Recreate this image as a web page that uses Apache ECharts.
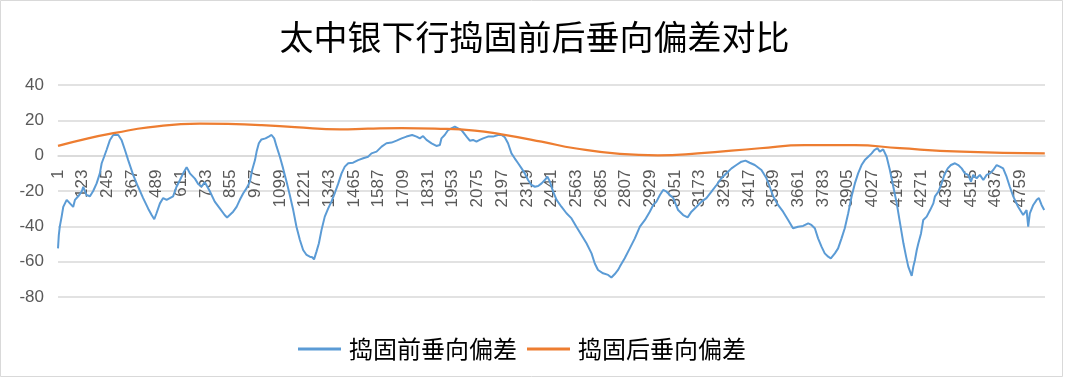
<!DOCTYPE html>
<html>
<head>
<meta charset="utf-8">
<script src="https://cdn.jsdelivr.net/npm/echarts@6/dist/echarts.min.js"></script>
<style>
html,body{margin:0;padding:0;background:#fff;}
#chart{width:1069px;height:380px;}
</style>
</head>
<body>
<div id="chart"></div>
<script>
// Chart title and series names
const titleText = '太中银下行捣固前后垂向偏差对比';
const seriesNames = ['捣固前垂向偏差', '捣固后垂向偏差'];

// Y axis ticks
const yMin = -80, yMax = 40, yStep = 20;
// X axis: point index (0-based), labels show index+1 every 122 points
const xStep = 122, xMax = 4880;

// 捣固前垂向偏差 (point index, value)
const beforeIdx = [0,4,9,18,26,43,59,75,84,100,117,125,141,158,174,191,207,216,228,240,257,273,281,298,314,331,347,372,396,421,446,463,476,487,504,520,537,553,569,586,603,619,636,652,677,693,710,726,750,775,800,824,836,849,866,883,899,916,932,949,960,974,982,993,1006,1026,1042,1056,1069,1081,1097,1113,1130,1146,1163,1179,1196,1212,1229,1245,1257,1266,1278,1290,1303,1319,1336,1352,1369,1385,1402,1418,1435,1459,1484,1509,1533,1550,1575,1600,1624,1649,1674,1699,1723,1751,1773,1789,1805,1822,1847,1871,1888,1896,1912,1929,1945,1962,1978,1995,2020,2036,2052,2069,2085,2102,2126,2151,2176,2193,2209,2225,2242,2258,2275,2292,2308,2324,2341,2358,2374,2391,2407,2420,2432,2448,2465,2489,2514,2539,2563,2588,2613,2638,2654,2670,2695,2720,2736,2753,2769,2778,2802,2827,2852,2877,2902,2926,2943,2959,2976,2992,3009,3025,3042,3066,3091,3113,3132,3157,3182,3206,3231,3256,3280,3305,3330,3354,3379,3399,3420,3445,3478,3503,3519,3536,3560,3585,3610,3634,3659,3684,3709,3725,3742,3758,3775,3791,3808,3821,3841,3857,3874,3890,3907,3924,3940,3956,3973,3989,4006,4023,4036,4052,4063,4080,4097,4113,4130,4147,4163,4180,4193,4204,4221,4229,4237,4246,4254,4267,4278,4295,4312,4328,4336,4353,4369,4382,4399,4415,4435,4451,4468,4484,4500,4514,4525,4542,4558,4575,4591,4608,4624,4641,4657,4673,4690,4706,4723,4747,4772,4789,4797,4805,4822,4839,4850,4863,4876];
const beforeVal = [-52.5,-45,-40,-34.5,-29,-25,-27,-29,-25,-23,-20.4,-17.6,-22.3,-23,-20,-15.7,-10,-4.3,-0.6,3.2,8.9,11.7,12.6,11.7,8.9,3.2,-2.5,-11,-17.6,-24,-30,-33.6,-36,-32.6,-27,-24,-25,-24,-23,-17.6,-13.8,-10,-6.5,-10,-13,-16,-17.5,-15,-20,-26,-29.8,-33.6,-35,-33.6,-31.7,-29,-25,-21.3,-18.5,-14.7,-8.1,-2.5,2.3,7,9.2,9.8,10.8,11.7,9.8,5.1,-0.6,-7.2,-14.7,-22.3,-30.8,-40.2,-47.7,-53.4,-56.2,-57.2,-57.5,-58.7,-54.3,-49.6,-42,-34.5,-29.8,-26,-21,-16,-10,-6.2,-4.3,-4,-2.5,-1.5,-0.6,1.3,2.3,5.1,7,7.4,8.5,9.8,10.8,11.7,10.8,9.8,11.1,8.9,7,5.5,6,9.8,11.7,14.5,15.5,16.4,15.5,14.5,10.8,8.5,8.9,7.9,8.9,9.8,10.8,10.8,11.7,11.7,10.4,7,1.3,-1.5,-4.3,-7.2,-10,-13.8,-16.6,-17.6,-17.2,-15.7,-13.8,-11.9,-14.7,-20.4,-25,-28.9,-32.6,-35.5,-40.2,-44.9,-49.6,-55.3,-61,-64.7,-66.6,-67.5,-69,-67,-64.7,-62.8,-58.1,-52.5,-46.8,-40.2,-36.4,-31.7,-27.9,-26,-22.3,-19.4,-20.4,-22.3,-24,-30.8,-33.6,-34.9,-31.7,-28.9,-26,-24,-20.4,-16.6,-12.8,-10,-7.2,-5.3,-3.4,-2.8,-4,-5.3,-8.1,-12.8,-17.6,-23,-27.9,-31.7,-36.4,-41.1,-40.2,-39.8,-38.3,-39.2,-41.1,-46.8,-51.5,-55.3,-57.2,-58.1,-55.3,-52.5,-46.8,-41.1,-32.6,-23,-15.7,-10,-5.3,-2.5,-0.6,1.3,3.2,4.2,2.3,3.6,-0.6,-8.1,-17.6,-27,-38,-49.6,-57,-62.8,-68,-62.8,-59,-53.4,-49.6,-44,-36.4,-34.5,-30.8,-27,-23,-20.4,-15.7,-10.9,-7.2,-5.3,-4.3,-5.3,-7.2,-10,-10.9,-14.7,-10.9,-12.8,-10.9,-13.8,-10.9,-10,-8.1,-5.3,-6.2,-7.2,-11.9,-17.6,-23,-28.9,-33.6,-30.8,-40.2,-32.6,-27.9,-25,-24,-27.9,-30.8];

// 捣固后垂向偏差 (point index, value)
const afterIdx = [0,149,290,446,701,840,1007,1171,1394,1532,1699,1863,2061,2193,2391,2555,2778,2966,3163,3470,3692,3939,4162,4467,4879];
const afterVal = [5.5,9.8,13,16,18.2,18,17.3,16.2,14.9,15.3,15.6,15.3,14.2,12,7.9,4.2,1.0,0.2,1.3,4.2,6,6,4.2,2.3,1.3];

const beforeData = beforeIdx.map((x, i) => [x, beforeVal[i]]);
const afterData = afterIdx.map((x, i) => [x, afterVal[i]]);

const gridTop = 85, gridBottom = 83, chartH = 380;
const plotH = chartH - gridTop - gridBottom;
// move the x axis up to the zero line
const zeroOffset = -plotH * (0 - yMin) / (yMax - yMin);

const chart = echarts.init(document.getElementById('chart'), null, {renderer: 'canvas'});
const labelFont = 'Liberation Sans';
chart.setOption({
  animation: false,
  backgroundColor: '#ffffff',
  title: {
    text: titleText,
    left: 'center',
    top: 20,
    padding: 0,
    textStyle: {fontFamily: 'Noto Sans CJK SC', fontSize: 34, fontWeight: 'normal', color: '#000000'}
  },
  legend: {
    data: seriesNames,
    left: 298,
    top: 337,
    padding: 0,
    icon: 'rect',
    itemWidth: 43,
    itemHeight: 3,
    itemGap: 10,
    textStyle: {fontFamily: 'Noto Sans CJK SC', fontSize: 24, color: '#000000', padding: [0, 0, 0, 3]}
  },
  graphic: [{
    type: 'rect',
    shape: {x: 0.5, y: 0.5, width: 1062, height: 376},
    style: {fill: 'none', stroke: '#d9d9d9', lineWidth: 1},
    silent: true
  }],
  grid: {left: 58, right: 24, top: gridTop, bottom: gridBottom, containLabel: false},
  xAxis: {
    type: 'value',
    min: 0,
    max: xMax,
    interval: xStep,
    offset: zeroOffset,
    axisLine: {onZero: false, lineStyle: {color: '#d9d9d9', width: 1.5}},
    axisTick: {show: false},
    splitLine: {show: false},
    axisLabel: {
      rotate: 90,
      margin: 14,
      color: '#595959',
      fontSize: 17,
      fontFamily: labelFont,
      showMaxLabel: false,
      formatter: v => String(v + 1)
    }
  },
  yAxis: {
    type: 'value',
    min: yMin,
    max: yMax,
    interval: yStep,
    axisLine: {show: false},
    axisTick: {show: false},
    splitLine: {lineStyle: {color: '#d9d9d9', width: 1.5}},
    axisLabel: {margin: 14, color: '#595959', fontSize: 17, fontFamily: labelFont}
  },
  series: [
    {
      name: seriesNames[0],
      type: 'line',
      data: beforeData,
      symbol: 'none',
      lineStyle: {color: '#5b9bd5', width: 2},
      itemStyle: {color: '#5b9bd5'}
    },
    {
      name: seriesNames[1],
      type: 'line',
      data: afterData,
      smooth: true,
      symbol: 'none',
      lineStyle: {color: '#ed7d31', width: 2.25},
      itemStyle: {color: '#ed7d31'}
    }
  ]
});
</script>
</body>
</html>
